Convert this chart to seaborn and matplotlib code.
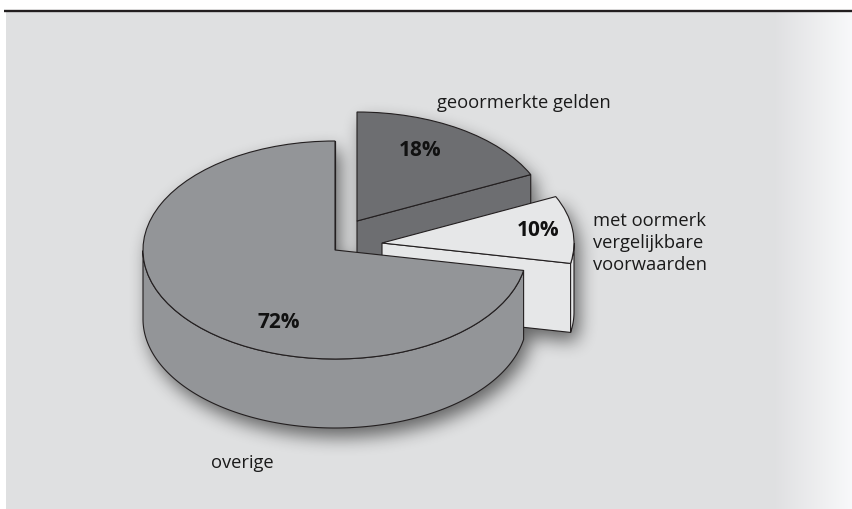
import numpy as np
import matplotlib
matplotlib.use('Agg')
import matplotlib.pyplot as plt
import seaborn as sns

sns.set_theme(style='white')
plt.rcParams['font.family'] = ['Open Sans', 'DejaVu Sans']

# values, same order as the pie goes round from the top
shares = [72, 10, 18]
names = ['overige', 'met oormerk\nvergelijkbare\nvoorwaarden', 'geoormerkte gelden']
slice_colors = ['#939598', '#e6e7e8', '#6d6e71']

W, H = 853, 509
# pie sizes in pixels
cx, cy = 335, 250
rx, ry = 192, 109
depth = 69 / ry

def to_x(px):
    return (px - cx) / rx

def to_y(py):
    return (cy - py) / ry

# shift of each slice away from the main centre, pixels
shift_px = [(0, 0), (47, -7), (22, -29)]
centers = [(to_x(cx + a), to_y(cy + b)) for a, b in shift_px]
ink = '#231f20'

fig = plt.figure(figsize=(W / 100, H / 100), dpi=100, facecolor='white')
ax = fig.add_axes([0, 0, 1, 1])

wedges, _ = ax.pie(shares, startangle=90, colors=slice_colors,
                   wedgeprops={'edgecolor': ink, 'linewidth': 0.8})
ax.set_aspect('auto')

# panel background with the fade at the right
extent = [to_x(0), to_x(W), to_y(H), to_y(0)]
fade = np.interp(np.arange(W), [0, 775, 853], [0.878, 0.878, 0.975])
panel = np.dstack([fade, fade + 0.002, fade + 0.008])
panel = np.repeat(panel, H, axis=0)
panel[:12, :] = 1
panel[:, :6] = 1
ax.imshow(panel, extent=extent, aspect='auto', zorder=0, interpolation='nearest')

# soft shadow under the whole pie
xx, yy = np.meshgrid(to_x(np.arange(W) + 0.5 - 5), to_y(np.arange(H) + 0.5 - 9))
mask = np.zeros((H, W))
for w, (c0, c1) in zip(wedges, centers):
    for t in np.linspace(0, depth, 70):
        u = xx - c0
        v = yy - c1 + t
        ang = np.degrees(np.arctan2(v, u)) % 360
        inside = (u ** 2 + v ** 2 <= 1) & (((ang - w.theta1) % 360) <= (w.theta2 - w.theta1))
        mask[inside] = 1

def box_blur(a, n):
    k = np.ones(n) / n
    a = np.apply_along_axis(lambda r: np.convolve(r, k, mode='same'), 0, a)
    return np.apply_along_axis(lambda r: np.convolve(r, k, mode='same'), 1, a)

for _ in range(3):
    mask = box_blur(mask, 17)
shadow = np.zeros((H, W, 4))
shadow[..., 3] = mask * 0.55
shadow[:12, :, 3] = 0
ax.imshow(shadow, extent=extent, aspect='auto', zorder=1, interpolation='bilinear')

# draw back to front: dark slice, light slice, big slice
order = {0: 8, 1: 6, 2: 4}
for i, w in enumerate(wedges):
    c0, c1 = centers[i]
    z = order[i]
    w.set_center((c0, c1))
    w.set_zorder(z)
    a = np.radians(w.theta1)
    ex, ey = c0 + np.cos(a), c1 + np.sin(a)
    # cut face along the first edge
    ax.fill([c0, ex, ex, c0], [c1, ey, ey - depth, c1 - depth], facecolor=slice_colors[i],
            edgecolor=ink, linewidth=0.8, zorder=z - 1)
    # outer rim, only the part facing the viewer
    th = np.radians(np.linspace(w.theta1, w.theta2, 400))
    th = th[np.sin(th) < 0]
    if len(th) > 1:
        rim_x = c0 + np.cos(th)
        rim_y = c1 + np.sin(th)
        ax.fill(np.r_[rim_x, rim_x[::-1]], np.r_[rim_y, rim_y[::-1] - depth],
                facecolor=slice_colors[i], edgecolor=ink, linewidth=0.8, zorder=z - 1)

ax.set_xlim(to_x(0), to_x(W))
ax.set_ylim(to_y(H), to_y(0))
ax.axis('off')

# rule at the top
ax.plot([to_x(4), to_x(W)], [to_y(11), to_y(11)], color=ink, lw=1.7, zorder=10, solid_capstyle='butt')

# percentage labels and names
pct_pos = [(279, 323), (538, 230), (420, 151)]
for v, (px, py) in zip(shares, pct_pos):
    ax.text(to_x(px), to_y(py), f'{v}%', fontsize=15, fontweight='bold', color='#111111',
            ha='center', va='center', zorder=12)

name_pos = [(211, 463), (593, 243), (437, 103)]
for n, (px, py) in zip(names, name_pos):
    ax.text(to_x(px), to_y(py), n, fontsize=13.2, color='#1a1a1a', ha='left', va='center',
            linespacing=1.28, zorder=12)

fig.savefig('out.png', dpi=100)
